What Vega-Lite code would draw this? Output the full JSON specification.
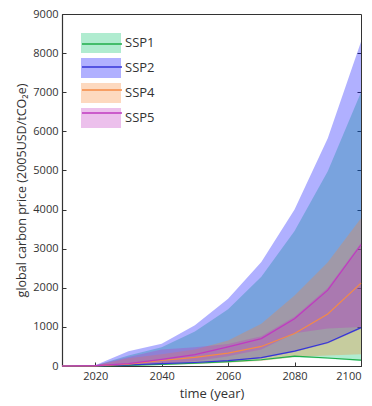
{
  "$schema": "https://vega.github.io/schema/vega-lite/v6.json",
  "width": 299,
  "height": 352,
  "autosize": {"type": "none"},
  "padding": {"left": 62, "top": 14, "right": 11, "bottom": 40},
  "background": "white",
  "config": {
    "font": "Open Sans",
    "view": {"stroke": "#333", "strokeWidth": 1},
    "axis": {
      "domainColor": "#333", "domainWidth": 1.2, "tickColor": "#333", "labelColor": "#333", "titleColor": "#333",
      "grid": false, "labelFontSize": 11, "titleFontSize": 13, "titleFontWeight": "normal",
      "tickSize": -4, "labelPadding": 8
    },
    "legend": {"labelColor": "#333", "labelFontSize": 13}
  },
  "data": {"values": [
    {"ssp": "SSP1", "year": 2010, "lo": 0, "med": 0, "hi": 0},
    {"ssp": "SSP1", "year": 2020, "lo": 0, "med": 5, "hi": 10},
    {"ssp": "SSP1", "year": 2030, "lo": 5, "med": 15, "hi": 270},
    {"ssp": "SSP1", "year": 2040, "lo": 25, "med": 40, "hi": 480},
    {"ssp": "SSP1", "year": 2050, "lo": 50, "med": 70, "hi": 880},
    {"ssp": "SSP1", "year": 2060, "lo": 90, "med": 110, "hi": 1450},
    {"ssp": "SSP1", "year": 2070, "lo": 140, "med": 160, "hi": 2280},
    {"ssp": "SSP1", "year": 2080, "lo": 225, "med": 250, "hi": 3450},
    {"ssp": "SSP1", "year": 2090, "lo": 185, "med": 205, "hi": 4980},
    {"ssp": "SSP1", "year": 2100, "lo": 130, "med": 150, "hi": 7000},
    {"ssp": "SSP2", "year": 2010, "lo": 0, "med": 0, "hi": 0},
    {"ssp": "SSP2", "year": 2020, "lo": 0, "med": 5, "hi": 20},
    {"ssp": "SSP2", "year": 2030, "lo": 15, "med": 25, "hi": 380},
    {"ssp": "SSP2", "year": 2040, "lo": 45, "med": 60, "hi": 570},
    {"ssp": "SSP2", "year": 2050, "lo": 75, "med": 90, "hi": 1040},
    {"ssp": "SSP2", "year": 2060, "lo": 120, "med": 135, "hi": 1720},
    {"ssp": "SSP2", "year": 2070, "lo": 200, "med": 215, "hi": 2660},
    {"ssp": "SSP2", "year": 2080, "lo": 355, "med": 380, "hi": 4000},
    {"ssp": "SSP2", "year": 2090, "lo": 575, "med": 600, "hi": 5820},
    {"ssp": "SSP2", "year": 2100, "lo": 950, "med": 980, "hi": 8290},
    {"ssp": "SSP4", "year": 2010, "lo": 0, "med": 0, "hi": 0},
    {"ssp": "SSP4", "year": 2020, "lo": 0, "med": 5, "hi": 15},
    {"ssp": "SSP4", "year": 2030, "lo": 10, "med": 50, "hi": 200},
    {"ssp": "SSP4", "year": 2040, "lo": 30, "med": 140, "hi": 300},
    {"ssp": "SSP4", "year": 2050, "lo": 50, "med": 220, "hi": 420},
    {"ssp": "SSP4", "year": 2060, "lo": 80, "med": 330, "hi": 650},
    {"ssp": "SSP4", "year": 2070, "lo": 130, "med": 500, "hi": 1080},
    {"ssp": "SSP4", "year": 2080, "lo": 230, "med": 830, "hi": 1800},
    {"ssp": "SSP4", "year": 2090, "lo": 270, "med": 1330, "hi": 2650},
    {"ssp": "SSP4", "year": 2100, "lo": 300, "med": 2120, "hi": 3775},
    {"ssp": "SSP5", "year": 2010, "lo": 0, "med": 0, "hi": 0},
    {"ssp": "SSP5", "year": 2020, "lo": 0, "med": 10, "hi": 20},
    {"ssp": "SSP5", "year": 2030, "lo": 20, "med": 60, "hi": 230},
    {"ssp": "SSP5", "year": 2040, "lo": 60, "med": 170, "hi": 420},
    {"ssp": "SSP5", "year": 2050, "lo": 120, "med": 290, "hi": 480},
    {"ssp": "SSP5", "year": 2060, "lo": 250, "med": 490, "hi": 560},
    {"ssp": "SSP5", "year": 2070, "lo": 420, "med": 700, "hi": 760},
    {"ssp": "SSP5", "year": 2080, "lo": 840, "med": 1210, "hi": 1260},
    {"ssp": "SSP5", "year": 2090, "lo": 960, "med": 1940, "hi": 2000},
    {"ssp": "SSP5", "year": 2100, "lo": 1000, "med": 3100, "hi": 3150}
  ]},
  "layer": [
    {
      "mark": {"type": "area", "fillOpacity": 0.31, "interpolate": "linear"},
      "encoding": {
        "x": {"field": "year", "type": "quantitative",
              "scale": {"domain": [2010, 2100], "nice": false, "zero": false},
              "axis": {"values": [2020, 2040, 2060, 2080, 2100], "format": "d", "title": "time (year)", "titlePadding": 6}},
        "y": {"field": "lo", "type": "quantitative", "stack": null,
              "scale": {"domain": [0, 9000], "nice": false},
              "axis": {"values": [0, 1000, 2000, 3000, 4000, 5000, 6000, 7000, 8000, 9000], "format": "d",
                       "title": "global carbon price (2005USD/tCO₂e)", "titleFontSize": 12.5, "titlePadding": 4}},
        "y2": {"field": "hi"},
        "fill": {"field": "ssp", "type": "nominal",
                 "scale": {"domain": ["SSP1", "SSP2", "SSP4", "SSP5"], "range": ["#00c267", "#0000ff", "#f88430", "#c234c2"]},
                 "legend": {"orient": "none", "legendX": 29, "legendY": 19, "title": null,
                            "symbolType": "M-2,-1H2V1H-2Z", "symbolSize": 400, "symbolOpacity": 0.31,
                            "symbolStrokeWidth": 0, "labelOffset": 14, "rowPadding": 5}}
      }
    },
    {
      "mark": {"type": "line", "strokeWidth": 1.2, "interpolate": "linear"},
      "encoding": {
        "x": {"field": "year", "type": "quantitative"},
        "y": {"field": "med", "type": "quantitative",
              "axis": {"orient": "right", "labels": false, "title": null, "domain": false,
                       "values": [1000, 2000, 3000, 4000, 5000, 6000, 7000, 8000]}},
        "stroke": {"field": "ssp", "type": "nominal",
                   "scale": {"range": ["#1fae4a", "#3434d8", "#f58a45", "#c03ac0"]},
                   "legend": {"orient": "none", "legendX": 29, "legendY": 19, "title": null,
                              "symbolType": "M-2,0H2", "symbolSize": 400, "symbolStrokeWidth": 1.5,
                              "labelOffset": 14, "rowPadding": 5, "labelColor": "transparent", "labelExpr": "''"}}
      }
    }
  ],
  "resolve": {"axis": {"y": "independent"}}
}
